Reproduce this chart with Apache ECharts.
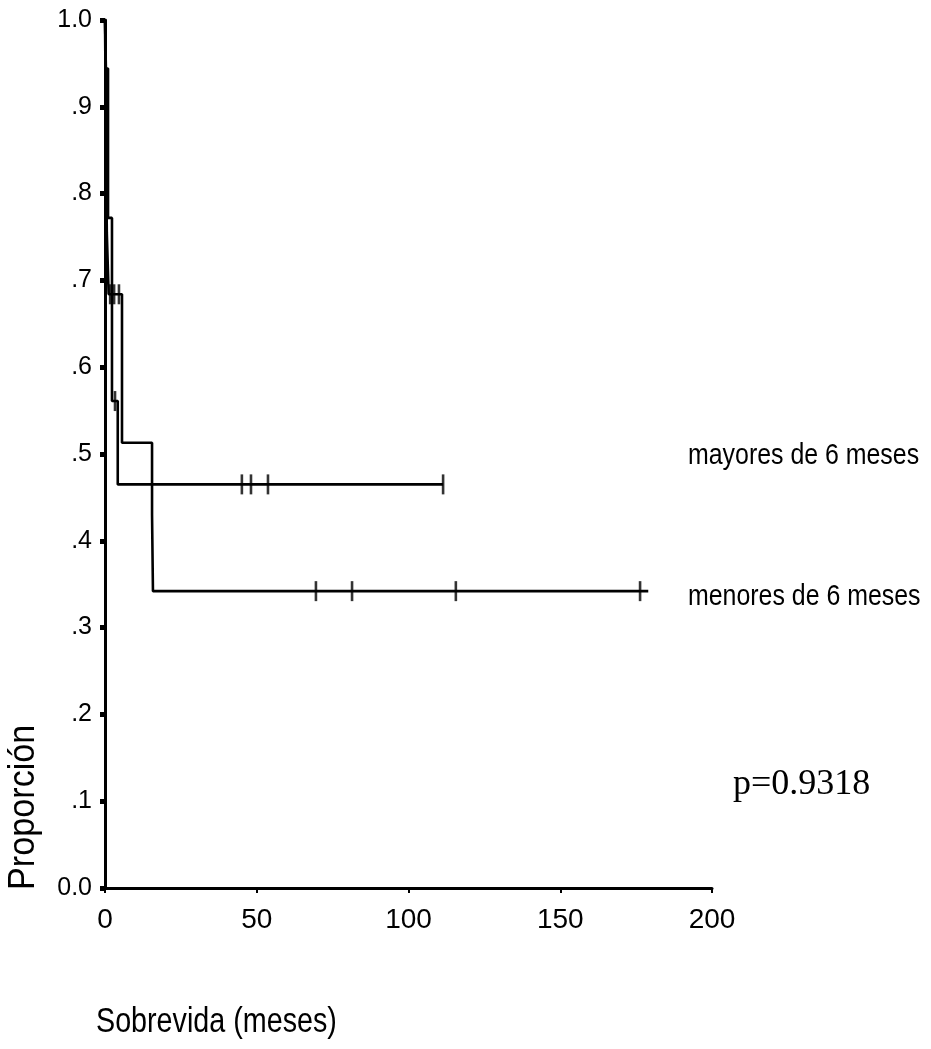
<!DOCTYPE html>
<html><head><meta charset="utf-8">
<script src="https://cdn.jsdelivr.net/npm/echarts@6/dist/echarts.min.js"></script>
<style>html,body{margin:0;padding:0;background:#fff}#c{width:931px;height:1049px}</style>
</head><body><div id="c"></div>
<script>
// Kaplan-Meier data (months, proportion)
const mayoresT = [0, 0.3, 1.0, 2.3, 4.2, 111.4];
const mayoresS = [1.0, 0.944, 0.772, 0.561, 0.465, 0.465];
const mayoresCens = [3.3, 45.1, 48.1, 53.7, 111.4];
const menoresT = [0, 0.6, 1.2, 5.6, 15.5, 15.8, 179];
const menoresS = [1.0, 0.755, 0.684, 0.513, 0.43, 0.342, 0.342];
const menoresCens = [1.7, 3.0, 4.6, 69.5, 81.4, 115.6, 176.3];
const yTickLabels = ['0.0','.1','.2','.3','.4','.5','.6','.7','.8','.9','1.0'];
const xTickLabels = ['0','50','100','150','200'];
const seriesNames = ['mayores de 6 meses','menores de 6 meses'];
const pText = 'p=0.9318';
const xTitle = 'Sobrevida (meses)';
const yTitle = 'Proporción';

const SANS = '"Liberation Sans", Arial, sans-serif';

function levelAt(T, S, t){ let v = S[0]; for(let i=0;i<T.length;i++){ if(T[i] <= t) v = S[i]; } return v; }
const pairs = (T,S) => T.map((t,i)=>[t,S[i]]);

const chart = echarts.init(document.getElementById('c'), null, {renderer:'canvas'});
const lineStyle = {color:'#000', width:2.6};
const censorStyle = {color:'#000'};
chart.setOption({
  animation:false,
  backgroundColor:'#fff',
  grid:{left:105, right:219, top:20, bottom:161},
  xAxis:{type:'value', min:0, max:200, interval:50,
    axisLine:{lineStyle:{color:'#000', width:3}},
    axisTick:{show:true, length:5, lineStyle:{color:'#000', width:2}},
    axisLabel:{color:'#000', fontSize:28, fontFamily:SANS, margin:18,
      formatter:v=>xTickLabels[Math.round(v/50)]},
    splitLine:{show:false}},
  yAxis:{type:'value', min:0, max:1, interval:0.1,
    axisLine:{lineStyle:{color:'#000', width:3}},
    axisTick:{show:true, length:5, lineStyle:{color:'#000', width:5}},
    axisLabel:{color:'#000', fontSize:25, fontFamily:SANS, margin:13,
      formatter:v=>yTickLabels[Math.round(v*10)]},
    splitLine:{show:false}},
  series:[
    {name:seriesNames[0], type:'line', step:'end', data:pairs(mayoresT, mayoresS), symbol:'none', lineStyle:lineStyle, z:3},
    {name:seriesNames[1], type:'line', step:'end', data:pairs(menoresT, menoresS), symbol:'none', lineStyle:lineStyle, z:3},
    {type:'scatter', data:mayoresCens.map(t=>[t, levelAt(mayoresT, mayoresS, t)]), symbol:'rect', symbolSize:[2.6,20], itemStyle:censorStyle, z:4},
    {type:'scatter', data:menoresCens.map(t=>[t, levelAt(menoresT, menoresS, t)]), symbol:'rect', symbolSize:[2.6,20], itemStyle:censorStyle, z:4}
  ],
  graphic:[
    {type:'text', x:688, y:441, scaleX:0.83, style:{text:seriesNames[0], font:'30px '+SANS, fill:'#000', verticalAlign:'top'}},
    {type:'text', x:688, y:582, scaleX:0.83, style:{text:seriesNames[1], font:'30px '+SANS, fill:'#000', verticalAlign:'top'}},
    {type:'text', x:733, y:767, style:{text:pText, font:'36px "Liberation Serif", "Times New Roman", serif', fill:'#000', verticalAlign:'top'}},
    {type:'text', x:96, y:1005, scaleX:0.82, style:{text:xTitle, font:'35px '+SANS, fill:'#000', verticalAlign:'top'}},
    {type:'text', x:6, y:890, rotation:Math.PI/2, scaleX:0.95, style:{text:yTitle, font:'36px '+SANS, fill:'#000', align:'left', verticalAlign:'top'}}
  ]
});
</script></body></html>
